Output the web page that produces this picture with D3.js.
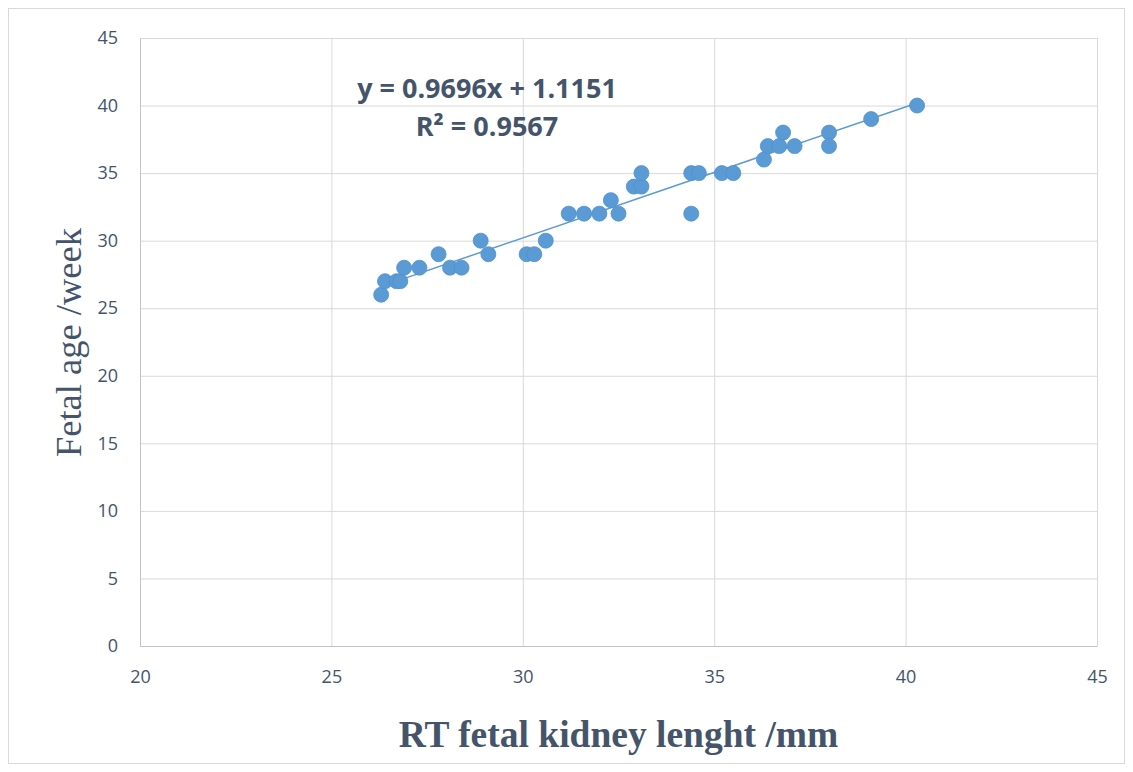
<!DOCTYPE html>
<html>
<head>
<meta charset="utf-8">
<script src="https://cdn.jsdelivr.net/npm/d3@7"></script>
<style>
  body { margin: 0; background: #fff; }
</style>
</head>
<body>
<div id="chart"></div>
<script>
// kidney length (mm) and fetal age (week)
var kidneyLength = [26.3, 26.4, 26.7, 26.8, 26.9, 27.3, 27.8, 28.1, 28.4, 28.9, 29.1, 30.1, 30.3, 30.6,
  31.2, 31.6, 32.0, 32.3, 32.5, 32.9, 33.1, 33.1, 34.4, 34.4, 34.6, 35.2, 35.5, 36.3, 36.4, 36.7,
  36.8, 37.1, 38.0, 38.0, 39.1, 40.3]
var fetalAge = [26, 27, 27, 27, 28, 28, 29, 28, 28, 30, 29, 29, 29, 30,
  32, 32, 32, 33, 32, 34, 34, 35, 32, 35, 35, 35, 35, 36, 37, 37,
  38, 37, 38, 37, 39, 40]
var xTicks = [20, 25, 30, 35, 40, 45]
var yTicks = [0, 5, 10, 15, 20, 25, 30, 35, 40, 45]
var slope = 0.9696
var intercept = 1.1151
var r2 = 0.9567

var margin = { top: 38, left: 140, right: 36, bottom: 126 }
var width = 1133 - margin.left - margin.right
var height = 772 - margin.top - margin.bottom

var root = d3.select('#chart')
  .append('svg')
  .attr('width', 1133)
  .attr('height', 772)

// chart border
root.append('rect')
  .attr('x', 8.5)
  .attr('y', 8.5)
  .attr('width', 1116)
  .attr('height', 755)
  .attr('fill', 'none')
  .attr('stroke', '#d9d9d9')

var svg = root.append('g')
  .attr('transform', `translate(${margin.left},${margin.top})`)

var xPositionScale = d3.scaleLinear().domain([20, 45]).range([0, width])
var yPositionScale = d3.scaleLinear().domain([0, 45]).range([height, 0])

var datapoints = kidneyLength.map((d, i) => ({ x: d, y: fetalAge[i] }))

// gridlines
svg.append('g')
  .attr('class', 'grid')
  .call(d3.axisLeft(yPositionScale).tickValues(yTicks).tickSize(-width).tickFormat(''))
  .call(g => g.select('.domain').remove())
  .call(g => g.selectAll('line').attr('stroke', '#d9d9d9'))

svg.append('g')
  .attr('class', 'grid')
  .attr('transform', `translate(0,${height})`)
  .call(d3.axisBottom(xPositionScale).tickValues(xTicks).tickSize(-height).tickFormat(''))
  .call(g => g.select('.domain').remove())
  .call(g => g.selectAll('line').attr('stroke', '#d9d9d9'))

// axes
var xAxis = d3.axisBottom(xPositionScale).tickValues(xTicks).tickSize(0).tickPadding(24)
svg.append('g')
  .attr('class', 'axis x-axis')
  .attr('transform', `translate(0,${height})`)
  .call(xAxis)
  .call(g => g.select('.domain').attr('stroke', '#bfc4cc'))

var yAxis = d3.axisLeft(yPositionScale).tickValues(yTicks).tickSize(0).tickPadding(22)
svg.append('g')
  .attr('class', 'axis y-axis')
  .call(yAxis)
  .call(g => g.select('.domain').attr('stroke', '#bfc4cc'))

svg.selectAll('.axis text')
  .attr('font-family', 'Open Sans, sans-serif')
  .attr('font-size', 18)
  .attr('fill', '#44546a')

// trendline
var xExtent = d3.extent(kidneyLength)
var line = d3.line()
  .x(d => xPositionScale(d))
  .y(d => yPositionScale(slope * d + intercept))

svg.append('path')
  .datum(xExtent)
  .attr('d', line)
  .attr('fill', 'none')
  .attr('stroke', '#5b9bd5')
  .attr('stroke-width', 1.5)

// points
svg.selectAll('.point')
  .data(datapoints)
  .enter()
  .append('circle')
  .attr('class', 'point')
  .attr('cx', d => xPositionScale(d.x))
  .attr('cy', d => yPositionScale(d.y))
  .attr('r', 7.5)
  .attr('fill', '#5b9bd5')
  .attr('stroke', '#4f8fcc')
  .attr('stroke-width', 0.8)

// equation label
svg.append('text')
  .attr('x', 347)
  .attr('y', 60)
  .attr('text-anchor', 'middle')
  .attr('font-family', 'Open Sans, sans-serif')
  .attr('font-weight', 'bold')
  .attr('font-size', 27)
  .attr('fill', '#44546a')
  .text(`y = ${slope}x + ${intercept}`)

svg.append('text')
  .attr('x', 347)
  .attr('y', 98)
  .attr('text-anchor', 'middle')
  .attr('font-family', 'Open Sans, sans-serif')
  .attr('font-weight', 'bold')
  .attr('font-size', 27)
  .attr('fill', '#44546a')
  .text(`R² = ${r2}`)

// axis titles
svg.append('text')
  .attr('x', width / 2)
  .attr('y', height + 101)
  .attr('text-anchor', 'middle')
  .attr('font-family', 'Liberation Serif, serif')
  .attr('font-weight', 'bold')
  .attr('font-size', 37.5)
  .attr('fill', '#44546a')
  .text('RT fetal kidney lenght /mm')

svg.append('text')
  .attr('transform', `translate(-59,${yPositionScale(22.46)}) rotate(-90)`)
  .attr('text-anchor', 'middle')
  .attr('font-family', 'Liberation Serif, serif')
  .attr('font-size', 36.5)
  .attr('fill', '#44546a')
  .text('Fetal age /week')
</script>
</body>
</html>
